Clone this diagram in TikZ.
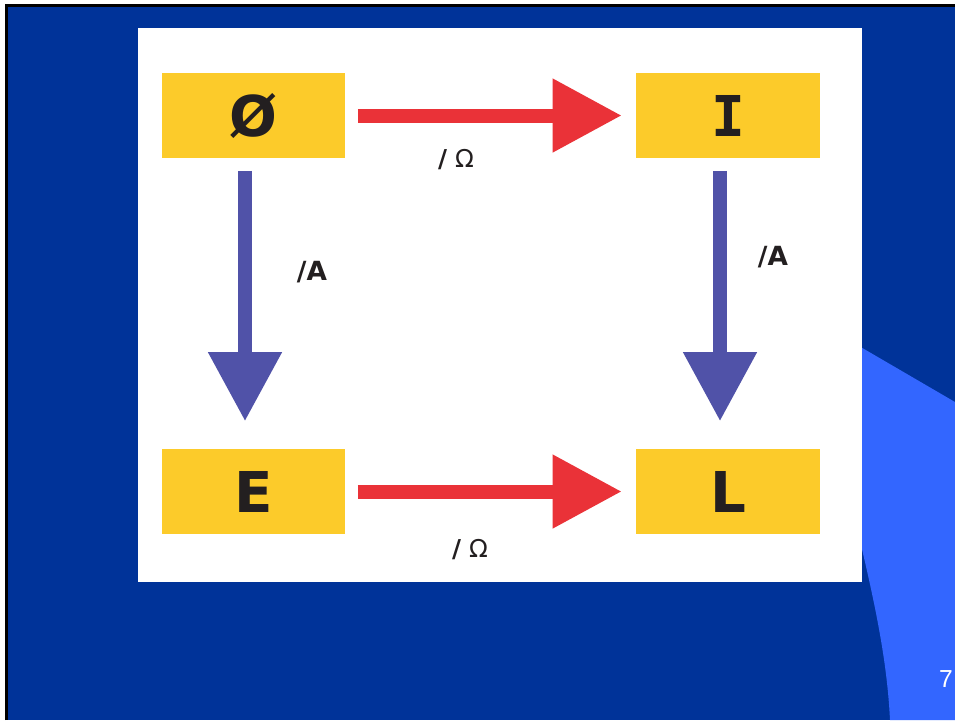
\documentclass[tikz,border=0pt]{standalone}
\usepackage{fontspec}
\setmainfont{DejaVu Sans}
\newfontfamily\arialfont{Liberation Sans}
\newfontfamily\monofont{DejaVu Sans Mono}
\usetikzlibrary{arrows.meta}

\definecolor{fondo}{HTML}{003399}
\definecolor{celeste}{HTML}{3366FF}
\definecolor{amarillo}{HTML}{FCCB2A}
\definecolor{rojo}{HTML}{EA3238}
\definecolor{azul}{HTML}{5052A8}
\definecolor{tinta}{HTML}{231F20}

\begin{document}
\begin{tikzpicture}[x=0.01cm, y=-0.01cm,
  caja/.style={fill=amarillo, text=tinta, inner sep=0pt, minimum width=1.83cm, minimum height=0.85cm,
    font=\fontsize{16}{18}\selectfont\bfseries},
  flecha/.style={line width=0.14cm, -{Triangle[length=0.69cm, width=0.70cm]}},
  etiq/.style={text=tinta, font=\fontsize{7}{9}\selectfont}]
  \useasboundingbox (0,0) rectangle (955,720);
  % fondo de la diapositiva
  \fill[white] (0,0) rectangle (955,720);
  \fill[fondo] (5,4) rectangle (955,720);
  \draw[line width=0.03cm] (6.5,720) -- (6.5,5.5) -- (955,5.5);
  \fill[celeste] (780,300) -- (955,402) -- (955,720) -- (890,720)
        .. controls (887,660) and (875,600) .. (850,500) -- cycle;
  \node[white, font=\arialfont\fontsize{7}{8}\selectfont] (pag) at (946,679) {7};
  % panel blanco
  \fill[white] (138,28) rectangle (862,582);
  % estados
  \node[caja] (vacio) at (253.5,115.5) {Ø};
  \node[caja, font=\monofont\fontsize{16}{18}\selectfont\bfseries] (i) at (728,115.5) {I};
  \node[caja] (e) at (253.5,491.5) {E};
  \node[caja] (l) at (728,491.5) {L};
  % transiciones Omega
  \draw[flecha, rojo, shorten <=0.12cm, shorten >=0.14cm] (vacio.east) -- (i.west);
  \draw[flecha, rojo, shorten <=0.12cm, shorten >=0.14cm] (e.east) -- (l.west);
  \node[etiq] (om1) at (456,160) {\textbf{/} Ω};
  \node[etiq] (om2) at (470,550) {\textbf{/} Ω};
  % transiciones A
  \draw[flecha, azul, shorten <=0.12cm, shorten >=0.27cm]
        ([xshift=-0.085cm]vacio.south) -- ([xshift=-0.085cm]e.north);
  \draw[flecha, azul, shorten <=0.12cm, shorten >=0.27cm]
        ([xshift=-0.08cm]i.south) -- ([xshift=-0.08cm]l.north);
  \node[etiq, font=\fontsize{7.5}{9}\selectfont\bfseries] (a1) at (312,272) {/A};
  \node[etiq, font=\fontsize{7.5}{9}\selectfont\bfseries] (a2) at (773,257) {/A};
\end{tikzpicture}
\end{document}
